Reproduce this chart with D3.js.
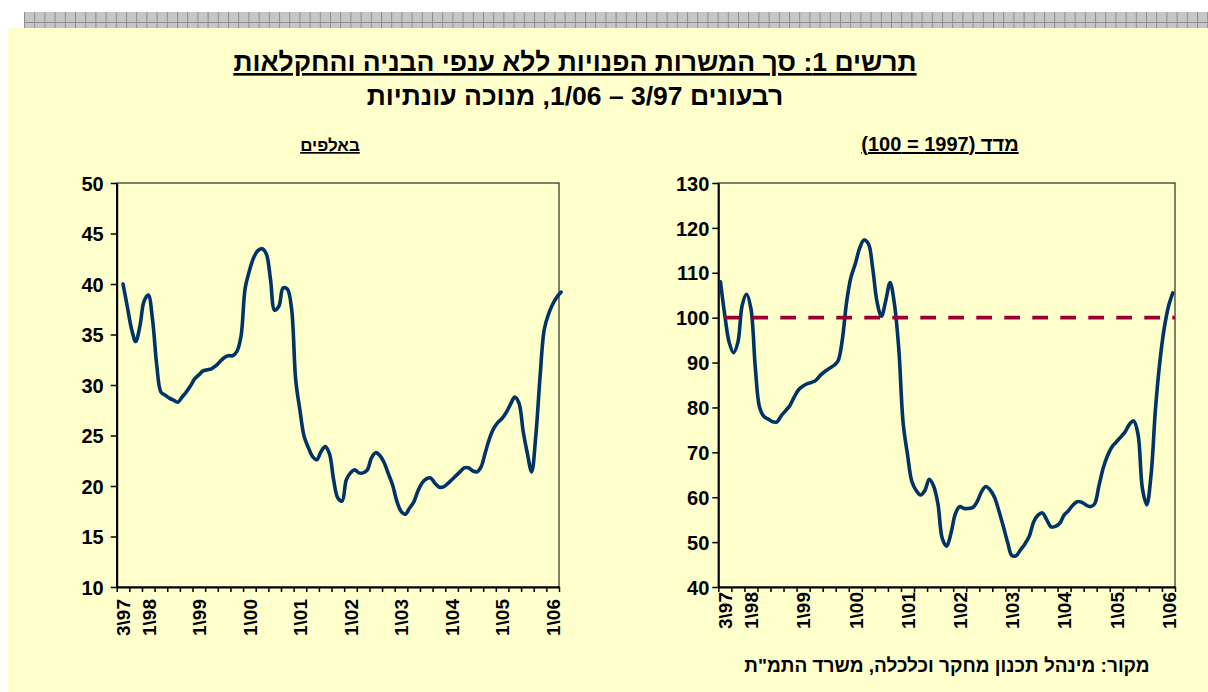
<!DOCTYPE html>
<html>
<head>
<meta charset="utf-8">
<script src="https://cdn.jsdelivr.net/npm/d3@7"></script>
<style>
body { margin: 0; background: #fff; }
svg { display: block; }
text { font-family: "Liberation Sans", Arial, sans-serif; font-weight: bold; fill: #000; }
</style>
</head>
<body>
<svg id="chart"></svg>
<script>
// months counted from 7/1997 (month 0) to 3/2006 (month 104)
var quarterLabels = ["3\\97", "1\\98", "1\\99", "1\\00", "1\\01", "1\\02", "1\\03", "1\\04", "1\\05", "1\\06"];
var quarterIndex  = [0, 2, 6, 10, 14, 18, 22, 26, 30, 34];
var quarterCount  = 35;

// vacancies, thousands
var vacanciesK = [null,
  40.0, 37.8, 35.6, 34.3, 35.8, 38.3, 38.9, 36.5, 32.0, 29.3,
  29.0, 28.7, 28.5, 28.3, 28.8, 29.3, 29.9, 30.6, 31.0, 31.4,
  31.5, 31.6, 31.9, 32.3, 32.7, 32.9, 32.9, 33.3, 34.8, 39.6,
  41.3, 42.6, 43.3, 43.5, 43.0, 40.5, 37.4, 37.8, 39.6, 39.5,
  37.6, 30.5, 27.5, 24.9, 23.8, 22.9, 22.6, 23.4, 23.9, 23.2,
  20.6, 18.8, 18.5, 20.6, 21.3, 21.6, 21.3, 21.3, 21.6, 22.8,
  23.3, 23.0, 22.3, 21.2, 20.1, 18.5, 17.5, 17.2, 17.8, 18.4,
  19.5, 20.3, 20.7, 20.8, 20.3, 19.9, 19.9, 20.2, 20.6, 21.0,
  21.4, 21.8, 21.8, 21.5, 21.4, 21.9, 23.3, 24.7, 25.7, 26.3,
  26.7, 27.3, 28.1, 28.8, 28.2, 25.4, 23.2, 21.4, 25.0, 30.8,
  35.5, 37.0, 38.0, 38.7, 39.2];

// index, 1997 = 100
var vacancyIndex = [108.0,
  100.5, 94.5, 92.2, 94.5, 102.8, 105.2, 102.0, 89.0, 80.0, 78.0,
  77.4, 76.8, 76.8, 78.2, 79.3, 80.5, 82.4, 84.0, 84.8, 85.3,
  85.6, 86.1, 87.2, 88.0, 88.7, 89.3, 90.3, 95.0, 103.5, 109.0,
  112.0, 115.5, 117.3, 116.5, 111.0, 103.5, 100.3, 103.8, 107.8, 103.0,
  93.0, 76.5, 69.5, 63.5, 61.5, 60.5, 61.5, 64.0, 62.5, 58.5,
  50.8, 49.1, 52.0, 56.3, 57.9, 57.5, 57.5, 57.7, 59.0, 61.2,
  62.4, 61.6, 60.0, 57.0, 53.6, 50.0, 47.0, 47.0, 48.3, 49.6,
  51.3, 54.5, 56.0, 56.5, 55.0, 53.4, 53.5, 54.2, 56.0, 57.0,
  58.2, 59.0, 58.9, 58.3, 57.9, 58.5, 62.5, 66.5, 69.3, 71.2,
  72.3, 73.4, 74.5, 76.2, 77.0, 74.0, 62.0, 58.3, 65.0, 79.5,
  90.0, 97.5, 102.5, 105.5];

var leftTicks  = [10, 15, 20, 25, 30, 35, 40, 45, 50];
var rightTicks = [40, 50, 60, 70, 80, 90, 100, 110, 120, 130];
var baseLevel = 100;

var W = 1208, H = 692;
var svg = d3.select("#chart").attr("width", W).attr("height", H);

// hatched band on top
var defs = svg.append("defs");
var pat = defs.append("pattern").attr("id", "hatch")
    .attr("patternUnits", "userSpaceOnUse")
    .attr("x", 24).attr("y", 12).attr("width", 10.2).attr("height", 16);
pat.append("rect").attr("width", 10.2).attr("height", 16).attr("fill", "#c6c6c6");
pat.append("rect").attr("x", 0).attr("width", 1).attr("height", 16).attr("fill", "#8e8e8e");
pat.append("rect").attr("y", 10).attr("width", 10.2).attr("height", 1).attr("fill", "#8e8e8e");
svg.append("rect").attr("x", 24).attr("y", 12).attr("width", W - 24).attr("height", 16)
    .attr("fill", "url(#hatch)");

svg.append("rect").attr("x", 8).attr("y", 28).attr("width", W - 8).attr("height", H - 28)
    .attr("fill", "#ffffcc");

// titles
svg.append("text").attr("x", 575).attr("y", 71)
    .attr("text-anchor", "middle").style("direction", "rtl")
    .style("font-size", "26.5px").style("text-decoration", "underline")
    .text("תרשים 1: סך המשרות הפנויות ללא ענפי הבניה והחקלאות");
svg.append("text").attr("x", 575).attr("y", 105)
    .attr("text-anchor", "middle").style("direction", "rtl")
    .style("font-size", "26.5px")
    .text("רבעונים 3/97 – 1/06, מנוכה עונתיות");

svg.append("text").attr("x", 947).attr("y", 672)
    .attr("text-anchor", "middle").style("direction", "rtl")
    .style("font-size", "19px")
    .text("מקור: מינהל תכנון מחקר וכלכלה, משרד התמ\"ת");

function drawPanel(o) {
    var x = d3.scaleLinear().domain([-0.5, quarterCount * 3 - 0.5]).range([o.x0, o.x1]);
    var y = d3.scaleLinear().domain([o.ticks[0], o.ticks[o.ticks.length - 1]]).range([o.y1, o.y0]);

    var g = svg.append("g");

    g.append("text").attr("x", o.titleX).attr("y", 151)
        .attr("text-anchor", "middle").style("direction", "rtl")
        .style("font-size", o.titleSize).style("text-decoration", "underline")
        .text(o.title);

    g.append("rect").attr("x", o.x0).attr("y", o.y0)
        .attr("width", o.x1 - o.x0).attr("height", o.y1 - o.y0)
        .attr("fill", "#ffffcc").attr("stroke", "#000").attr("stroke-width", 1);

    var yAxis = g.append("g").attr("transform", "translate(" + o.x0 + ",0)")
        .call(d3.axisLeft(y).tickValues(o.ticks).tickSize(6).tickSizeOuter(0).tickPadding(o.yPad));
    yAxis.select(".domain").attr("stroke-width", 2);
    yAxis.selectAll(".tick line").attr("stroke-width", 1.5);
    yAxis.selectAll("text").style("font-size", "20px").attr("dy", "0.36em");

    var boundaries = d3.range(quarterCount + 1).map(function (k) { return k * 3 - 0.5; });
    var xAxis = g.append("g").attr("transform", "translate(0," + o.y1 + ")")
        .call(d3.axisBottom(x).tickValues(boundaries).tickSize(5).tickSizeOuter(0).tickFormat(""));
    xAxis.select(".domain").attr("stroke-width", 2);
    xAxis.selectAll(".tick line").attr("stroke-width", 1.5);

    var labelAxis = g.append("g").attr("transform", "translate(0," + o.y1 + ")")
        .call(d3.axisBottom(x)
            .tickValues(quarterIndex.map(function (q) { return q * 3 + 1; }))
            .tickSize(0)
            .tickFormat(function (d, i) { return quarterLabels[i]; }));
    labelAxis.select(".domain").remove();
    labelAxis.selectAll("text")
        .attr("transform", "rotate(-90)")
        .attr("x", -o.xPad).attr("y", 0).attr("dy", "0.36em")
        .style("text-anchor", "end")
        .style("font-size", "19px");
    g.selectAll(".tick text").attr("fill", "#000");

    var line = d3.line()
        .defined(function (d) { return d != null; })
        .x(function (d, i) { return x(i); })
        .y(function (d) { return y(d); })
        .curve(d3.curveCatmullRom.alpha(0.5));

    g.append("path").datum(o.values)
        .attr("fill", "none").attr("stroke", "#003366")
        .attr("stroke-width", 3.6).attr("stroke-linejoin", "round").attr("stroke-linecap", "round")
        .attr("d", line);

    if (o.base != null) {
        g.append("line")
            .attr("x1", x(-0.5)).attr("x2", x(quarterCount * 3 - 0.5))
            .attr("y1", y(o.base)).attr("y2", y(o.base))
            .attr("stroke", "#990033").attr("stroke-width", 3.6)
            .attr("stroke-dasharray", "15.7,12.3").attr("stroke-dashoffset", 22);
    }
}

drawPanel({
    x0: 116.7, x1: 559, y0: 183, y1: 587,
    ticks: leftTicks, values: vacanciesK,
    title: "באלפים", titleX: 330, titleSize: "17px", yPad: 7, xPad: 12
});

drawPanel({
    x0: 718.3, x1: 1175, y0: 183, y1: 587,
    ticks: rightTicks, values: vacancyIndex, base: baseLevel,
    title: "מדד (1997 = 100)", titleX: 940, titleSize: "20px", yPad: 3, xPad: 5
});
</script>
</body>
</html>
